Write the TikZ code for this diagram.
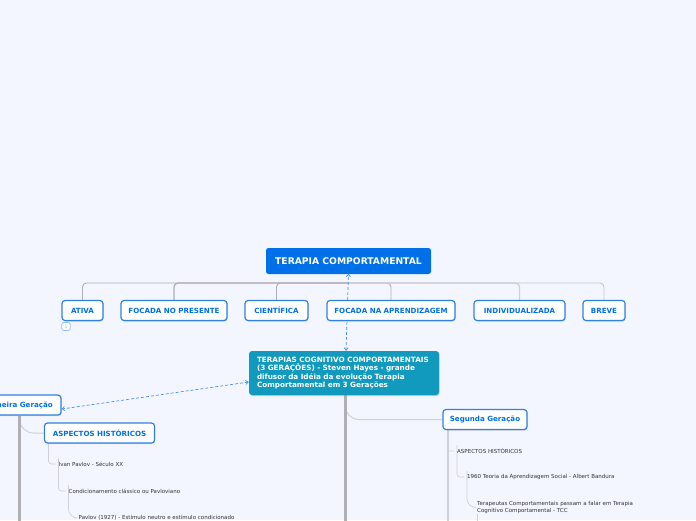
\documentclass[tikz,border=0pt]{standalone}
\usepackage{fontspec}
\setmainfont{DejaVu Sans}
\usetikzlibrary{arrows.meta, positioning, calc, shadows, backgrounds}
\definecolor{mmbg}{RGB}{243,246,255}
\definecolor{mmblue}{RGB}{0,112,232}
\definecolor{mmborder}{RGB}{48,130,226}
\definecolor{mmteal}{RGB}{17,154,190}
\definecolor{mmtrunk}{RGB}{176,176,180}
\definecolor{mmbranch}{RGB}{208,209,214}
\definecolor{mmdash}{RGB}{72,145,232}
\definecolor{mmtext}{RGB}{50,50,60}
\tikzset{
  rootbox/.style={fill=mmblue, rounded corners=2.5pt, text=white, inner sep=0pt,
    font=\fontsize{9.2}{11}\selectfont\bfseries},
  topicbox/.style={draw=mmborder, line width=1.2pt, fill=white, rounded corners=3pt,
    text=mmblue, inner sep=0pt, drop shadow={shadow xshift=.7pt, shadow yshift=-1pt, opacity=.3},
    font=\fontsize{7.1}{9}\selectfont\bfseries},
  mainbox/.style={fill=mmteal, rounded corners=3pt, text=white, inner sep=0pt,
    drop shadow={shadow xshift=.7pt, shadow yshift=-1pt, opacity=.35},
    font=\fontsize{7.25}{8.6}\selectfont\bfseries, align=left, text width=174pt},
  leaf/.style={text=mmtext, anchor=west, inner sep=0pt, align=left,
    font=\fontsize{5.5}{7.4}\selectfont},
  trunk/.style={draw=mmtrunk, line width=3pt},
  branch/.style={draw=mmbranch, line width=1pt},
  bus/.style={draw=mmtrunk, rounded corners=4pt},
  dashlink/.style={draw=mmdash, dashed, line width=.7pt, dash pattern=on 3pt off 2pt,
    {Straight Barb[length=2.5pt,width=4pt]}-{Straight Barb[length=2.5pt,width=4pt]}},
}
\begin{document}
\begin{tikzpicture}[x=1pt, y=-1pt]
\useasboundingbox (0,0) rectangle (696,520);
\clip (0,0) rectangle (696,520);

% root and the row under it
\node[rootbox, minimum width=165pt, minimum height=26pt] (root) at (348.5,261) {TERAPIA COMPORTAMENTAL};
\coordinate (rootbus) at (348,283);
\foreach \nm/\x/\w/\lbl in {
    ativa/82.5/41/ATIVA,
    presente/174/106/FOCADA NO PRESENTE,
    cientifica/276.5/63/CIENTÍFICA,
    aprendizagem/391/128/FOCADA NA APRENDIZAGEM,
    individual/519.5/91/INDIVIDUALIZADA,
    breve/604/42/BREVE}{
  \node[topicbox, minimum width=\w pt, minimum height=20pt] (\nm) at (\x,310.5) {\lbl};
}

% note badge
\node[draw=mmdash!60, line width=.7pt, rounded corners=2pt, fill=white, text=mmdash!70,
  minimum width=8.5pt, minimum height=8pt, inner sep=0pt, font=\fontsize{4.5}{5}\selectfont] (ativanote) at (66,326.5) {1};

% central topic
\node[mainbox, minimum width=190pt, minimum height=44pt] (main) at (344,373)
  {TERAPIAS COGNITIVO COMPORTAMENTAIS\\(3 GERAÇÕES) - Steven Hayes - grande\\difusor da Idéia da evolução Terapia\\Comportamental em 3 Gerações};

% first generation
\node[topicbox, minimum width=86pt, minimum height=20pt] (primeira) at (18,405) {Primeira Geração};
\node[topicbox, minimum width=110pt, minimum height=20pt] (aspectosa) at (99.5,433) {ASPECTOS HISTÓRICOS};
\node[leaf] (pavlov) at (58.5,464) {Ivan Pavlov - Século XX};
\node[leaf] (classico) at (68.5,491) {Condicionamento clássico ou Pavloviano};
\node[leaf] (estimulo) at (78.5,518) {Pavlov (1927) - Estímulo neutro e estímulo condicionado};

% second generation
\node[topicbox, minimum width=84pt, minimum height=20pt] (segunda) at (485,419.5) {Segunda Geração};
\node[leaf] (aspectosb) at (457,451) {ASPECTOS HISTÓRICOS};
\node[leaf] (bandura) at (467,477) {1960 Teoria da Aprendizagem Social - Albert Bandura};
\node[leaf] (terapeutas) at (477,507.5) {Terapeutas Comportamentais passam a falar em Terapia\\Cognitivo Comportamental - TCC};

\coordinate (mainend) at (345,525);
\coordinate (primeiraend) at (19.5,525);
\coordinate (segundaend) at (447.5,525);
\coordinate (terapeutasend) at (477,525);

\begin{scope}[on background layer]
\fill[mmbg] (0,0) rectangle (696,520);

% row under the root
\draw[bus, line width=.9pt] (rootbus) -| (ativa.north);
\draw[bus, line width=1.3pt] (rootbus) -| (presente.north);
\draw[bus, line width=.9pt] (rootbus) -| (cientifica.north);
\draw[bus, line width=.9pt] (rootbus) -| (aprendizagem.north);
\draw[bus, draw=mmbranch, line width=1.3pt] (rootbus) -| (individual.north);
\draw[bus, draw=mmbranch!70!mmtrunk, line width=.9pt] (rootbus) -| (breve.north);

% trunks
\draw[branch, rounded corners=14pt] (main.south -| mainend) |- (segunda.west);
\draw[branch, rounded corners=14pt] (primeira.south -| primeiraend) |- (aspectosa.west);
\draw[trunk] (main.south -| mainend) -- (mainend);
\draw[trunk] (primeira.south -| primeiraend) -- (primeiraend);

% first generation leaves
\draw[branch, line width=.7pt, rounded corners=3pt] ([xshift=-51pt]aspectosa.south) |- ([xshift=-3pt]pavlov.west);
\draw[branch, line width=.7pt, rounded corners=3pt] ([yshift=6pt]pavlov.west) |- ([xshift=-3pt]classico.west);
\draw[branch, line width=.7pt, rounded corners=9pt] ([yshift=6pt]classico.west) |- ([xshift=-3pt]estimulo.west);

% second generation leaves
\draw[branch, line width=2pt] (segunda.south -| segundaend) -- (segundaend);
\draw[branch, line width=.7pt, rounded corners=2pt] (segunda.south -| segundaend) |- ([xshift=-3pt]aspectosb.west);
\draw[branch, line width=.7pt, rounded corners=3pt] ([yshift=6pt]aspectosb.west) |- ([xshift=-3pt]bandura.west);
\draw[branch, line width=.7pt, rounded corners=9pt] ([yshift=6pt]bandura.west) |- ([xshift=-3pt]terapeutas.west);
\draw[branch, line width=.7pt] (terapeutas.south -| terapeutasend) -- (terapeutasend);

% relationships
\draw[dashlink] ([xshift=2pt]main.north) -- ([yshift=.5pt]root.south);
\draw[dashlink] (main.west |- 0,382) -- ([yshift=-4pt]primeira.east);
\end{scope}
\end{tikzpicture}
\end{document}
